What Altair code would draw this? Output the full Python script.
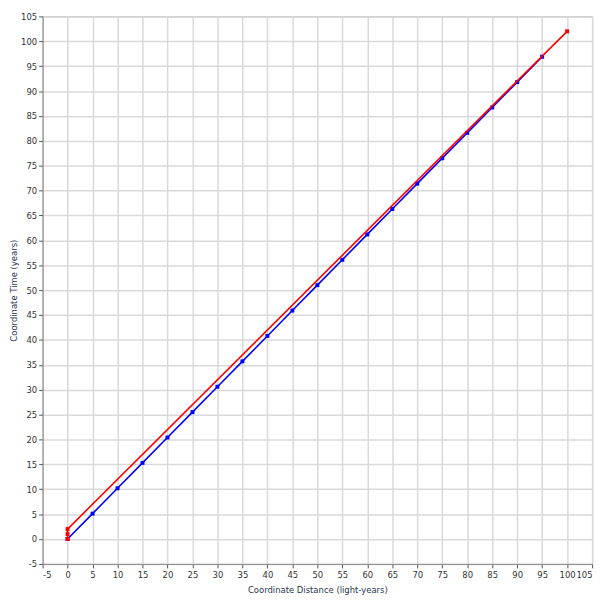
import altair as alt
import pandas as pd

blue_x = [0, 5, 10, 15, 20, 25, 30, 35, 40, 45, 50, 55, 60, 65, 70, 75, 80, 85, 90, 95]
blue_y = [0, 5.1, 10.2, 15.3, 20.4, 25.5, 30.6, 35.7, 40.8, 45.9, 51.0, 56.1, 61.2, 66.3, 71.4, 76.5, 81.6, 86.7, 91.8, 96.9]
red_x = [0, 0, 0, 100]
red_y = [0, 1, 2, 102]
ticks = [-5, 0, 5, 10, 15, 20, 25, 30, 35, 40, 45, 50, 55, 60, 65, 70, 75, 80, 85, 90, 95, 100, 105]

blue = pd.DataFrame({"x": blue_x, "y": blue_y, "o": list(range(len(blue_x)))})
red = pd.DataFrame({"x": red_x, "y": red_y, "o": list(range(len(red_x)))})

xs = alt.Scale(domain=[-5, 105], nice=False, zero=False)
ys = alt.Scale(domain=[-5, 105], nice=False, zero=False)

FONT = "DejaVu Sans Condensed"
axis_common = dict(
    values=ticks, grid=True, gridColor="#d9d9d9", gridWidth=1.5,
    domainColor="#8c8c8c", tickColor="#555555", tickSize=4,
    labelFont=FONT, labelFontSize=9.5, labelColor="#333333",
    titleFont=FONT, titleFontSize=9.5, titleFontWeight="normal",
    titleColor="#2a3550", labelPadding=2, labelOverlap=False,
    labelExpr="datum.value < 0 ? '-' + abs(datum.value) : '' + datum.value",
)

xenc = alt.X("x:Q", scale=xs, axis=alt.Axis(title="Coordinate Distance (light-years)", titlePadding=5, **axis_common))
yenc = alt.Y("y:Q", scale=ys, axis=alt.Axis(title="Coordinate Time (years)", titlePadding=2, **axis_common))

def series(df, color):
    base = alt.Chart(df).encode(x=xenc, y=yenc, order="o:Q")
    return base.mark_line(color=color, strokeWidth=1.6) + base.mark_point(
        color=color, filled=True, shape="square", size=16, opacity=1)

chart = alt.layer(series(blue, "#0000ff"), series(red, "#ff0000")).properties(
    width=556, height=554,
    autosize=alt.AutoSizeParams(type="none"),
    padding={"left": 35, "top": 5, "right": 9, "bottom": 31},
).configure_view(stroke="#a0a0a0", strokeWidth=1)

chart.save("out.html", embed_options={"renderer": "svg", "actions": False})
